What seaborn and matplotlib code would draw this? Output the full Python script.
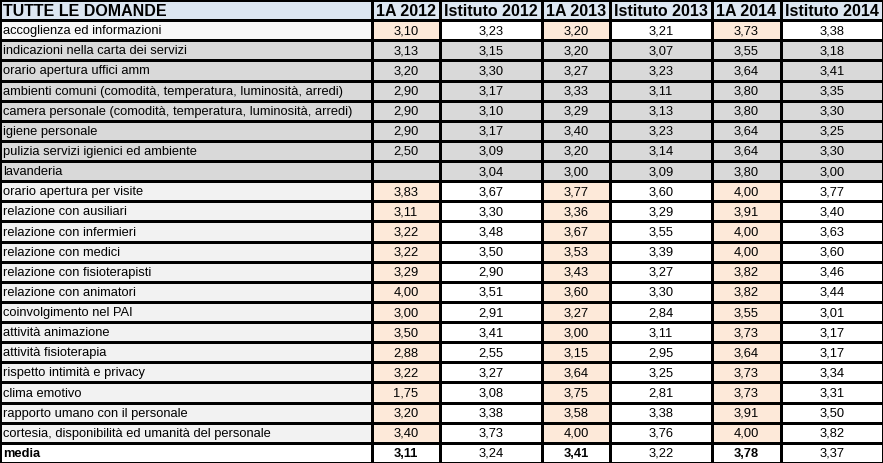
import numpy as np
import seaborn as sns
import matplotlib.pyplot as plt
from matplotlib.colors import ListedColormap

# dati della tabella
domande = [
    "accoglienza ed informazioni",
    "indicazioni nella carta dei servizi",
    "orario apertura uffici amm",
    "ambienti comuni (comodità, temperatura, luminosità, arredi)",
    "camera personale (comodità, temperatura, luminosità, arredi)",
    "igiene personale",
    "pulizia servizi igienici ed ambiente",
    "lavanderia",
    "orario apertura per visite",
    "relazione con ausiliari",
    "relazione con infermieri",
    "relazione con medici",
    "relazione con fisioterapisti",
    "relazione con animatori",
    "coinvolgimento nel PAI",
    "attività animazione",
    "attività fisioterapia",
    "rispetto intimità e privacy",
    "clima emotivo",
    "rapporto umano con il personale",
    "cortesia, disponibilità ed umanità del personale",
]
colonne = ["1A 2012", "Istituto 2012", "1A 2013", "Istituto 2013", "1A 2014", "Istituto 2014"]

a1_2012 = [3.10, 3.13, 3.20, 2.90, 2.90, 2.90, 2.50, None, 3.83, 3.11, 3.22, 3.22, 3.29, 4.00, 3.00, 3.50, 2.88, 3.22, 1.75, 3.20, 3.40]
ist_2012 = [3.23, 3.15, 3.30, 3.17, 3.10, 3.17, 3.09, 3.04, 3.67, 3.30, 3.48, 3.50, 2.90, 3.51, 2.91, 3.41, 2.55, 3.27, 3.08, 3.38, 3.73]
a1_2013 = [3.20, 3.20, 3.27, 3.33, 3.29, 3.40, 3.20, 3.00, 3.77, 3.36, 3.67, 3.53, 3.43, 3.60, 3.27, 3.00, 3.15, 3.64, 3.75, 3.58, 4.00]
ist_2013 = [3.21, 3.07, 3.23, 3.11, 3.13, 3.23, 3.14, 3.09, 3.60, 3.29, 3.55, 3.39, 3.27, 3.30, 2.84, 3.11, 2.95, 3.25, 2.81, 3.38, 3.76]
a1_2014 = [3.73, 3.55, 3.64, 3.80, 3.80, 3.64, 3.64, 3.80, 4.00, 3.91, 4.00, 4.00, 3.82, 3.82, 3.55, 3.73, 3.64, 3.73, 3.73, 3.91, 4.00]
ist_2014 = [3.38, 3.18, 3.41, 3.35, 3.30, 3.25, 3.30, 3.00, 3.77, 3.40, 3.63, 3.60, 3.46, 3.44, 3.01, 3.17, 3.17, 3.34, 3.31, 3.50, 3.82]
media = [3.11, 3.24, 3.41, 3.22, 3.78, 3.37]

serie = [a1_2012, ist_2012, a1_2013, ist_2013, a1_2014, ist_2014]
grigie = range(1, 8)  # righe su fondo grigio (indicazioni ... lavanderia)

plt.rcParams['font.family'] = ['Liberation Sans', 'DejaVu Sans']
palette = ListedColormap(["#dce6f1", "#d9d9d9", "#f2f2f2", "#fde9d9", "#ffffff", "#f7f7f7"])

n = len(domande) + 2
fig = plt.figure(figsize=(8.83, 4.63), dpi=100)
gs = fig.add_gridspec(1, 7, width_ratios=[372, 68, 102, 68, 102, 69, 102], wspace=0)
fig.subplots_adjust(left=0, right=1, top=1, bottom=0)


def codice(i, col):
    # 0 intestazione, 1 grigio, 2 chiaro, 3 pesca, 4 bianco, 5 quasi bianco
    if i == 0:
        return 0
    if i == n - 1:
        return 4
    if i - 1 in grigie:
        return 1
    if col == 0:
        return 5 if i == 1 else 2
    return 3 if col % 2 == 1 else 4


def fmt(v):
    return "" if v is None else f"{v:.2f}".replace(".", ",")


for c in range(7):
    ax = fig.add_subplot(gs[0, c])
    cod = np.array([[codice(i, c)] for i in range(n)])
    sns.heatmap(cod, ax=ax, cmap=palette, vmin=-0.5, vmax=5.5, cbar=False,
                linewidths=1, linecolor="black", xticklabels=False, yticklabels=False)
    if c == 0:
        testi = ["TUTTE LE DOMANDE"] + domande + ["media"]
        for i, t in enumerate(testi):
            bold = i in (0, n - 1)
            ax.text(0.008, i + 0.55, t, ha="left", va="center",
                    fontsize=11.5 if i == 0 else 9.3, fontweight="bold" if bold else "normal")
    else:
        valori = [colonne[c - 1]] + [fmt(v) for v in serie[c - 1]] + [fmt(media[c - 1])]
        for i, t in enumerate(valori):
            bold = i == 0 or (i == n - 1 and c % 2 == 1)
            ax.text(0.5, i + 0.55, t, ha="center", va="center",
                    fontsize=11.5 if i == 0 else 9.3, fontweight="bold" if bold else "normal")
    ax.set_xlabel("")
    ax.set_ylabel("")

fig.savefig("out.png", dpi=100)
